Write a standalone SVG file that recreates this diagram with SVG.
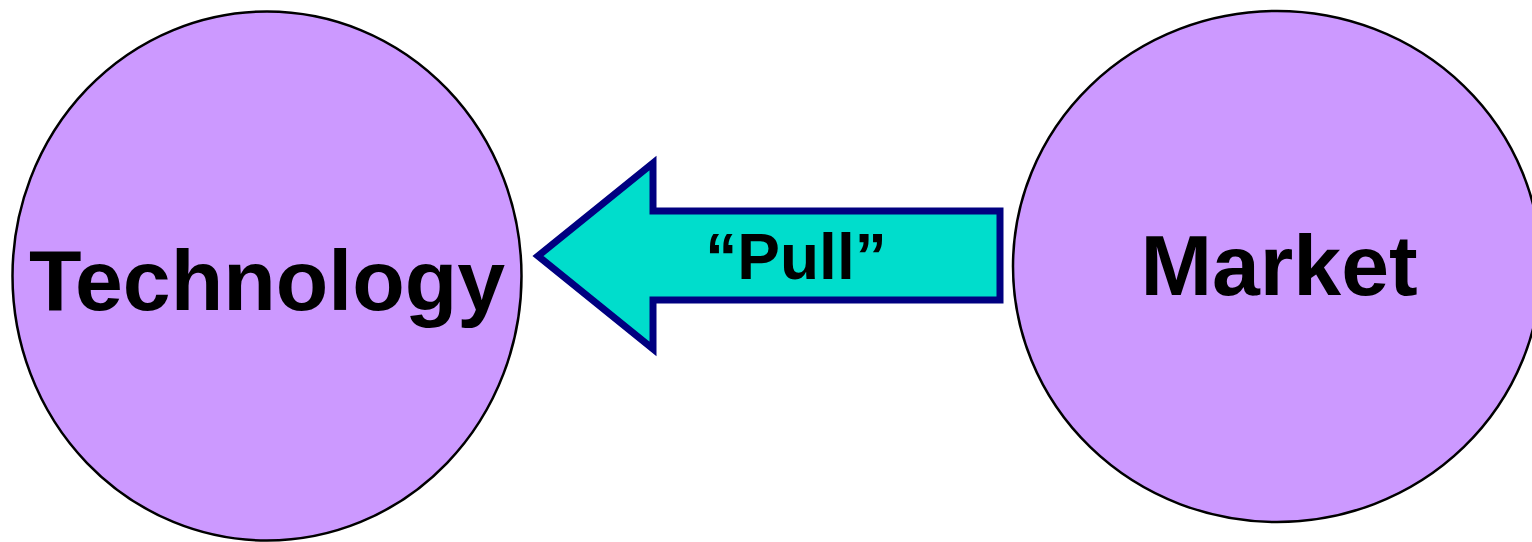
<svg xmlns="http://www.w3.org/2000/svg" width="1532" height="542" viewBox="0 0 1532 542">
  <style>
    .node { fill: #CC99FF; stroke: #000000; stroke-width: 2.5; }
    .label { font-family: "Liberation Sans", Arial, sans-serif; font-weight: bold; fill: #000000; text-anchor: middle; }
    .arrow { fill: #00DDCC; stroke: #000080; stroke-width: 7; stroke-linejoin: miter; }
  </style>
  <rect width="1532" height="542" fill="#FFFFFF"/>

  <g id="node-technology">
    <ellipse class="node" cx="267" cy="276" rx="254.5" ry="264.5"/>
    <text class="label" x="267" y="310" font-size="86">Technology</text>
  </g>

  <g id="node-market">
    <ellipse class="node" cx="1277" cy="266.5" rx="264" ry="255.5"/>
    <text class="label" x="1279" y="295" font-size="86">Market</text>
  </g>

  <g id="connectors">
    <path class="arrow" d="M 1000 211 L 653 211 L 653 163 L 538 256 L 653 349 L 653 300 L 1000 300 Z"/>
    <text class="label" x="796" y="279" font-size="64">“Pull”</text>
  </g>
</svg>
